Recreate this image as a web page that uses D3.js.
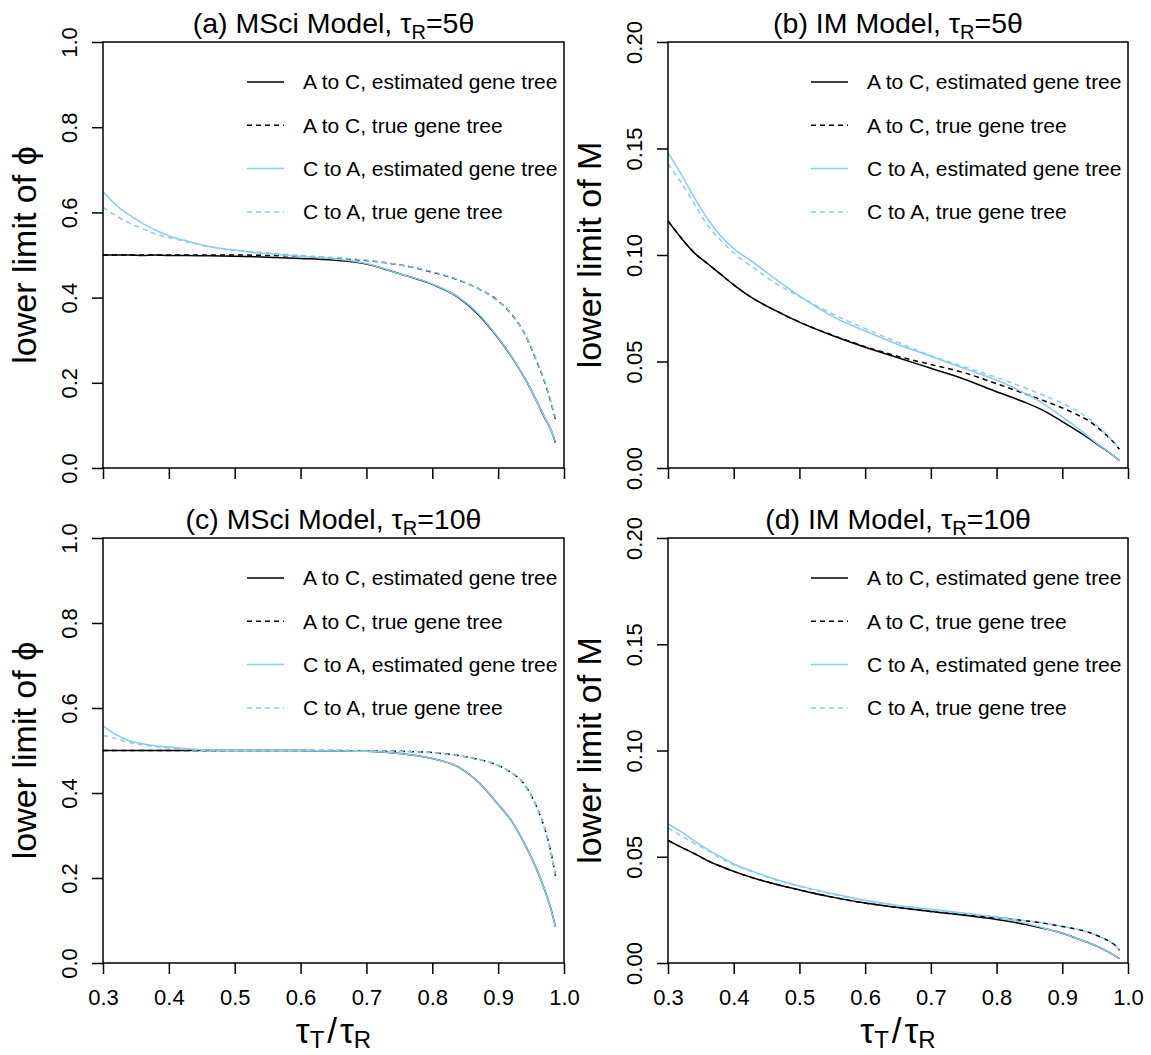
<!DOCTYPE html>
<html>
<head>
<meta charset="utf-8">
<script src="https://cdn.jsdelivr.net/npm/d3@7"></script>
<style>
  body { margin: 0; background: #fff; }
  svg { display: block; font-family: "Liberation Sans", Arial, sans-serif; }
</style>
</head>
<body>
<svg id="chart" width="1151" height="1055"></svg>
<script>
// tau_T / tau_R grid
const xs = [0.30, 0.32, 0.34, 0.36, 0.38, 0.40, 0.43, 0.46, 0.50, 0.55, 0.60, 0.65,
            0.70, 0.75, 0.80, 0.84, 0.87, 0.90, 0.92, 0.94, 0.96, 0.97, 0.98, 0.987];

// (a) MSci, tauR = 5 theta
const aEstAC  = [0.500, 0.500, 0.500, 0.499, 0.500, 0.499, 0.499, 0.498, 0.497, 0.495, 0.492, 0.488,
                 0.479, 0.456, 0.431, 0.400, 0.360, 0.305, 0.262, 0.212, 0.152, 0.120, 0.090, 0.060];
const aTrueAC = [0.500, 0.500, 0.500, 0.500, 0.500, 0.500, 0.500, 0.500, 0.500, 0.499, 0.497, 0.493,
                 0.487, 0.477, 0.460, 0.441, 0.421, 0.392, 0.362, 0.316, 0.245, 0.205, 0.155, 0.115];
const aEstCA  = [0.649, 0.617, 0.594, 0.574, 0.558, 0.545, 0.532, 0.520, 0.511, 0.503, 0.497, 0.491,
                 0.480, 0.456, 0.432, 0.401, 0.362, 0.306, 0.263, 0.213, 0.152, 0.121, 0.090, 0.062];
const aTrueCA = [0.612, 0.592, 0.575, 0.562, 0.549, 0.541, 0.530, 0.520, 0.512, 0.505, 0.499, 0.494,
                 0.488, 0.477, 0.461, 0.442, 0.421, 0.391, 0.363, 0.316, 0.247, 0.207, 0.157, 0.118];

// (b) IM, tauR = 5 theta
const bEstAC  = [0.116, 0.108, 0.101, 0.096, 0.091, 0.086, 0.0795, 0.0745, 0.0685, 0.0622, 0.0567, 0.0518,
                 0.0468, 0.0418, 0.0358, 0.0312, 0.0272, 0.0218, 0.0180, 0.0140, 0.0097, 0.0076, 0.0052, 0.0034];
const bTrueAC = [0.116, 0.108, 0.101, 0.096, 0.091, 0.086, 0.0795, 0.0745, 0.0685, 0.0624, 0.0570, 0.0524,
                 0.0486, 0.0448, 0.0396, 0.0352, 0.0318, 0.0282, 0.0254, 0.0222, 0.0174, 0.0146, 0.0115, 0.0088];
const bEstCA  = [0.148, 0.138, 0.127, 0.117, 0.109, 0.103, 0.0965, 0.0895, 0.0808, 0.0712, 0.0643, 0.058,
                 0.0525, 0.0468, 0.0413, 0.0355, 0.0305, 0.0240, 0.0196, 0.0146, 0.0099, 0.0077, 0.0052, 0.0034];
const bTrueCA = [0.1427, 0.134, 0.124, 0.114, 0.107, 0.101, 0.094, 0.0875, 0.0805, 0.0723, 0.0655, 0.059,
                 0.0528, 0.0476, 0.0425, 0.0380, 0.0343, 0.0304, 0.0272, 0.0232, 0.0179, 0.0149, 0.0116, 0.0090];

// (c) MSci, tauR = 10 theta
const cEstAC  = [0.500, 0.500, 0.500, 0.500, 0.500, 0.500, 0.500, 0.500, 0.500, 0.500, 0.500, 0.499,
                 0.498, 0.493, 0.481, 0.461, 0.426, 0.373, 0.335, 0.281, 0.215, 0.175, 0.128, 0.085];
const cTrueAC = [0.500, 0.500, 0.500, 0.500, 0.500, 0.500, 0.500, 0.500, 0.500, 0.500, 0.500, 0.500,
                 0.499, 0.498, 0.495, 0.488, 0.479, 0.465, 0.448, 0.420, 0.362, 0.320, 0.262, 0.205];
const cEstCA  = [0.558, 0.537, 0.523, 0.516, 0.511, 0.508, 0.504, 0.501, 0.500, 0.500, 0.500, 0.499,
                 0.498, 0.493, 0.481, 0.461, 0.426, 0.373, 0.335, 0.281, 0.215, 0.175, 0.128, 0.085];
const cTrueCA = [0.536, 0.528, 0.519, 0.513, 0.509, 0.506, 0.502, 0.500, 0.500, 0.500, 0.500, 0.500,
                 0.499, 0.498, 0.495, 0.488, 0.479, 0.465, 0.448, 0.420, 0.362, 0.320, 0.262, 0.205];

// (d) IM, tauR = 10 theta
const dEstAC  = [0.0577, 0.0545, 0.0515, 0.0482, 0.0455, 0.0431, 0.0400, 0.0374, 0.0344, 0.0310, 0.0282, 0.0261,
                 0.0242, 0.0225, 0.0205, 0.0184, 0.0164, 0.0140, 0.0118, 0.0095, 0.0068, 0.0052, 0.0035, 0.0020];
const dTrueAC = [0.0577, 0.0545, 0.0515, 0.0482, 0.0455, 0.0431, 0.0400, 0.0374, 0.0344, 0.0310, 0.0282, 0.0261,
                 0.0242, 0.0226, 0.0212, 0.0200, 0.0188, 0.0172, 0.0160, 0.0145, 0.0120, 0.0105, 0.0085, 0.0060];
const dEstCA  = [0.0654, 0.0618, 0.0575, 0.0535, 0.0500, 0.0466, 0.0430, 0.0398, 0.0363, 0.0327, 0.0295, 0.0271,
                 0.0253, 0.0235, 0.0215, 0.0190, 0.0166, 0.0140, 0.0118, 0.0095, 0.0068, 0.0052, 0.0035, 0.0020];
const dTrueCA = [0.0635, 0.0598, 0.0563, 0.0530, 0.0494, 0.0462, 0.0428, 0.0395, 0.0360, 0.0324, 0.0293, 0.0269,
                 0.0250, 0.0233, 0.0218, 0.0201, 0.0189, 0.0172, 0.0160, 0.0145, 0.0120, 0.0105, 0.0085, 0.0060];

const xTicks = [0.3, 0.4, 0.5, 0.6, 0.7, 0.8, 0.9, 1.0];
const phiTicks = [0.0, 0.2, 0.4, 0.6, 0.8, 1.0];
const mTicks = [0.00, 0.05, 0.10, 0.15, 0.20];
const legendLabels = ["A to C, estimated gene tree", "A to C, true gene tree",
                      "C to A, estimated gene tree", "C to A, true gene tree"];

const blue = "#87CEEB";
const styles = [
  { color: "#000", dash: null },
  { color: "#000", dash: "5,4" },
  { color: blue, dash: null },
  { color: blue, dash: "5,4" }
];

const svg = d3.select("#chart");

const panels = [
  { tag: "(a) MSci Model, ", theta: "5θ", ylab: "lower limit of ϕ", ymax: 1.0, yticks: phiTicks, fmt: d3.format(".1f"),
    series: [aEstAC, aTrueAC, aEstCA, aTrueCA], left: 103, right: 564, top: 42, bottom: 468, xlabels: false },
  { tag: "(b) IM Model, ", theta: "5θ", ylab: "lower limit of M", ymax: 0.20, yticks: mTicks, fmt: d3.format(".2f"),
    series: [bEstAC, bTrueAC, bEstCA, bTrueCA], left: 668, right: 1128, top: 42, bottom: 468, xlabels: false },
  { tag: "(c) MSci Model, ", theta: "10θ", ylab: "lower limit of ϕ", ymax: 1.0, yticks: phiTicks, fmt: d3.format(".1f"),
    series: [cEstAC, cTrueAC, cEstCA, cTrueCA], left: 103, right: 564, top: 538, bottom: 963, xlabels: true },
  { tag: "(d) IM Model, ", theta: "10θ", ylab: "lower limit of M", ymax: 0.20, yticks: mTicks, fmt: d3.format(".2f"),
    series: [dEstAC, dTrueAC, dEstCA, dTrueCA], left: 668, right: 1128, top: 538, bottom: 963, xlabels: true }
];

panels.forEach(function(p) {
  const x = d3.scaleLinear().domain([0.3, 1.0]).range([p.left, p.right]);
  const y = d3.scaleLinear().domain([0, p.ymax]).range([p.bottom, p.top]);
  const g = svg.append("g");

  // curves
  const line = d3.line()
    .x(function(d, i) { return x(xs[i]); })
    .y(function(d) { return y(d); })
    .curve(d3.curveMonotoneX);

  p.series.forEach(function(s, k) {
    g.append("path")
      .attr("d", line(s))
      .attr("fill", "none")
      .attr("stroke", styles[k].color)
      .attr("stroke-width", 1.5)
      .attr("stroke-dasharray", styles[k].dash);
  });

  // x axis
  const xAxis = g.append("g")
    .attr("transform", `translate(0,${p.bottom})`)
    .call(d3.axisBottom(x).tickValues(xTicks).tickSize(11).tickPadding(15)
      .tickFormat(p.xlabels ? d3.format(".1f") : ""));
  xAxis.select(".domain").remove();
  xAxis.selectAll("line").attr("stroke", "#000").attr("stroke-width", 1.5);
  xAxis.selectAll("text").attr("font-size", 22).attr("fill", "#000")
    .attr("font-family", "Liberation Sans, Arial, sans-serif");

  // y axis
  const yAxis = g.append("g")
    .attr("transform", `translate(${p.left},0)`)
    .call(d3.axisLeft(y).tickValues(p.yticks).tickSize(11).tickFormat(p.fmt));
  yAxis.select(".domain").remove();
  yAxis.selectAll("line").attr("stroke", "#000").attr("stroke-width", 1.5);
  yAxis.selectAll("text")
    .attr("transform", "rotate(-90)")
    .attr("x", 0).attr("y", -26).attr("dy", 0)
    .attr("text-anchor", "middle")
    .attr("font-size", 22).attr("fill", "#000")
    .attr("font-family", "Liberation Sans, Arial, sans-serif");

  // box
  g.append("rect")
    .attr("x", p.left).attr("y", p.top)
    .attr("width", p.right - p.left).attr("height", p.bottom - p.top)
    .attr("fill", "none").attr("stroke", "#000").attr("stroke-width", 1.5);

  // title
  const t = g.append("text")
    .attr("x", (p.left + p.right) / 2).attr("y", p.top - 9)
    .attr("text-anchor", "middle").attr("font-size", 28.5);
  t.append("tspan").text(p.tag + "τ");
  t.append("tspan").attr("font-size", 20).attr("dy", 6).text("R");
  t.append("tspan").attr("dy", -6).text("=" + p.theta);

  // y label
  g.append("text")
    .attr("transform", `translate(${p.left - 67},${(p.top + p.bottom) / 2}) rotate(-90)`)
    .attr("text-anchor", "middle").attr("font-size", 34)
    .text(p.ylab);

  // x label
  if (p.xlabels) {
    const xl = g.append("text")
      .attr("x", (p.left + p.right) / 2).attr("y", 1043)
      .attr("text-anchor", "middle").attr("font-size", 35);
    xl.append("tspan").text("τ");
    xl.append("tspan").attr("font-size", 24).attr("dy", 5).text("T");
    xl.append("tspan").attr("dy", -5).attr("dx", 3).text("/");
    xl.append("tspan").attr("dx", 3).text("τ");
    xl.append("tspan").attr("font-size", 24).attr("dy", 5).text("R");
  }

  // legend
  legendLabels.forEach(function(lab, k) {
    const ly = p.top + 40 + k * 43.3;
    g.append("line")
      .attr("x1", p.right - 317).attr("x2", p.right - 280)
      .attr("y1", ly).attr("y2", ly)
      .attr("stroke", styles[k].color).attr("stroke-width", 1.5)
      .attr("stroke-dasharray", styles[k].dash);
    g.append("text")
      .attr("x", p.right - 261).attr("y", ly).attr("dy", "0.35em")
      .attr("font-size", 21).text(lab);
  });
});
</script>
</body>
</html>
